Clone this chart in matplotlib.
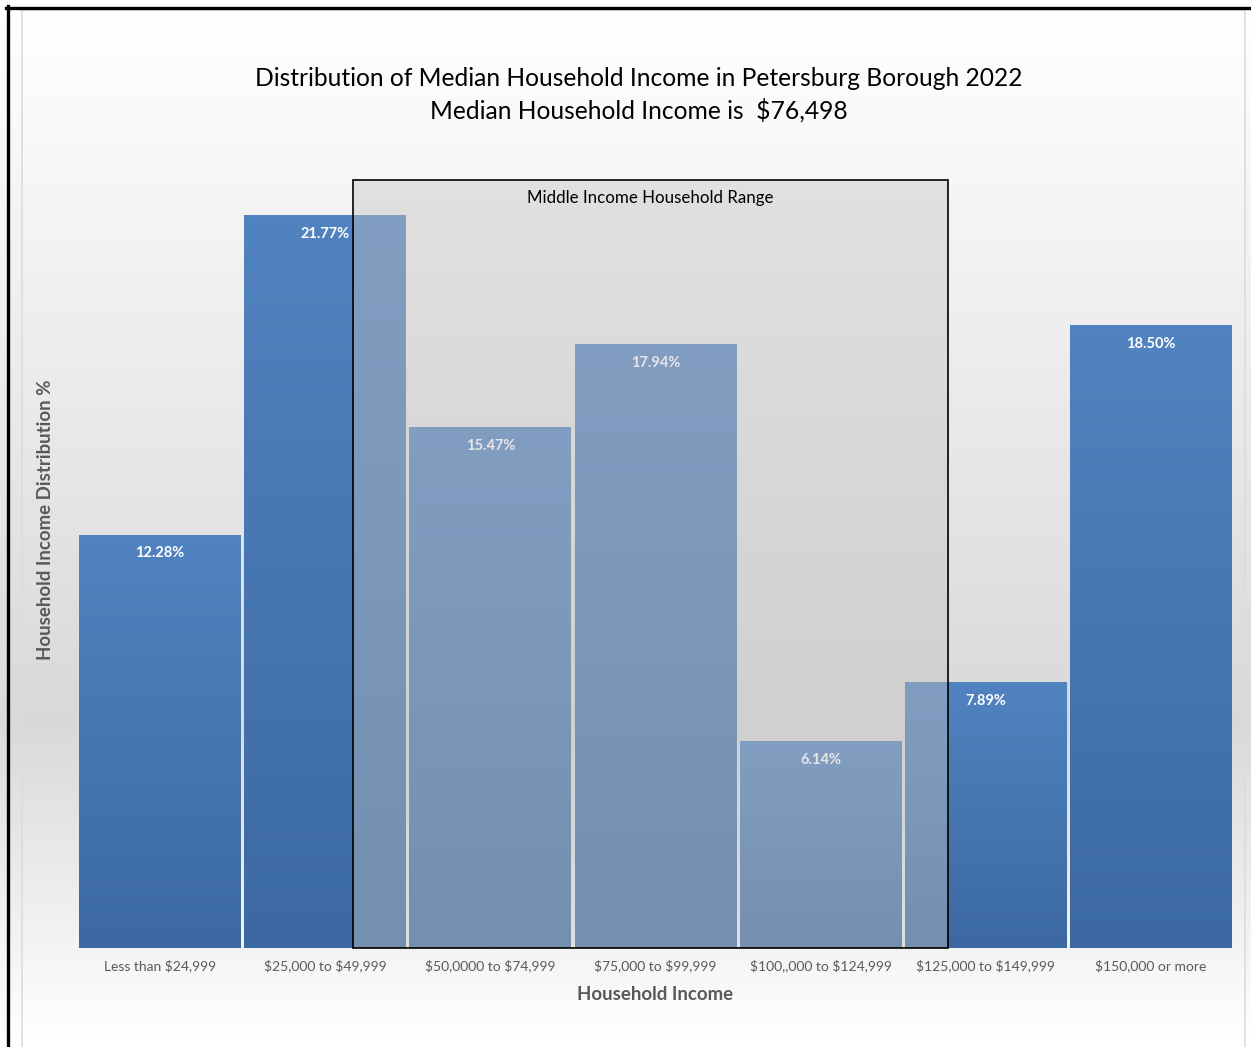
import numpy as np
import matplotlib
matplotlib.use("Agg")
import matplotlib.pyplot as plt
from matplotlib.patches import Rectangle
from matplotlib.lines import Line2D
from matplotlib.colors import to_rgb

plt.rcParams["font.family"] = ["Lato", "DejaVu Sans"]
plt.rcParams["text.parse_math"] = False

# data
categories = ["Less than $24,999", "$25,000 to $49,999", "$50,0000 to $74,999",
              "$75,000 to $99,999", "$100,,000 to $124,999", "$125,000 to $149,999",
              "$150,000 or more"]
shares = [12.28, 21.77, 15.47, 17.94, 6.14, 7.89, 18.50]
titleLines = ["Distribution of Median Household Income in Petersburg Borough 2022",
              "Median Household Income is  $76,498"]
middleLabel = "Middle Income Household Range"

# layout (pixels of a 1251x1047 canvas)
W, H = 1251, 1047
AX_LEFT, AX_RIGHT, AX_BOTTOM, AX_TOP = 77.4, 1233.6, 948, 150
YMAX = 23.71
MIDDLE_X = (1.168, 4.77)
MIDDLE_TOP = 22.82
BAR_TOP = "#5183c0"
BAR_BOTTOM = "#3c69a2"
TEXT_GRAY = "#595959"


def fx(x):
    return x / W


def fy(y):
    return 1 - y / H


fig = plt.figure(figsize=(W / 100, H / 100), dpi=100)

# background gradient: white -> gray around y=720 -> white
bg = fig.add_axes([0, 0, 1, 1], zorder=-10)
rows = np.arange(H)
vals = np.where(rows < 720, 255 - 39 * rows / 720, 216 + 39 * (rows - 720) / (H - 720))
img = np.repeat((vals / 255)[:, None], 2, axis=1)
bg.imshow(img, cmap="gray", vmin=0, vmax=1, aspect="auto", extent=[0, W, H, 0])
bg.set_xlim(0, W)
bg.set_ylim(H, 0)
bg.axis("off")

ax = fig.add_axes([fx(AX_LEFT), fy(AX_BOTTOM), fx(AX_RIGHT - AX_LEFT), (AX_BOTTOM - AX_TOP) / H])
ax.patch.set_alpha(0)
xs = np.arange(len(categories))
width = 0.98
bars = ax.bar(xs, shares, width=width, color=BAR_TOP, edgecolor="none", zorder=2)

c0 = np.array(to_rgb(BAR_BOTTOM))
c1 = np.array(to_rgb(BAR_TOP))
t = np.linspace(0, 1, 64)[:, None]
grad = (c1 * (1 - t) + c0 * t)[:, None, :]
for rect in bars:
    x0 = rect.get_x()
    h = rect.get_height()
    im = ax.imshow(grad, extent=[x0, x0 + width, 0, h], aspect="auto", zorder=2,
                   interpolation="bilinear")
    im.set_clip_path(rect)

for x, v in zip(xs, shares):
    ax.annotate(f"{v:.2f}%", (x, v), xytext=(0, -13.5), textcoords="offset points",
                ha="center", va="center", color="white", fontsize=10.5,
                fontweight="bold", zorder=3)

# middle income overlay
ov = Rectangle((MIDDLE_X[0], 0), MIDDLE_X[1] - MIDDLE_X[0], MIDDLE_TOP,
               facecolor=(0.77, 0.77, 0.77, 0.42), edgecolor="black", linewidth=1.2,
               zorder=4, clip_on=False)
ax.add_patch(ov)
ax.text(sum(MIDDLE_X) / 2, MIDDLE_TOP - 0.55, middleLabel, ha="center", va="center",
        fontsize=12.2, color="black", zorder=5)

ax.set_xlim(-0.5, len(categories) - 0.5)
ax.set_ylim(0, YMAX)
ax.set_xticks(xs)
ax.set_xticklabels(categories, fontsize=10, color=TEXT_GRAY)
ax.tick_params(axis="x", length=0, pad=8)
ax.set_yticks([])
for s in ax.spines.values():
    s.set_visible(False)

fig.text(fx(655), fy(994), "Household Income", ha="center", va="center",
         fontsize=13.4, fontweight="bold", color=TEXT_GRAY)
fig.text(fx(46), fy(520), "Household Income Distribution %", ha="center", va="center",
         rotation=90, fontsize=13.4, fontweight="bold", color=TEXT_GRAY)
fig.text(fx(639), fy(78), titleLines[0], ha="center", va="center", fontsize=17.7, color="black")
fig.text(fx(639), fy(110), titleLines[1], ha="center", va="center", fontsize=17.7, color="black")

# spreadsheet frame lines
for xa, ya in [((22, 22), (10, H)), ((22, 1245), (10, 10)), ((1245, 1245), (10, H))]:
    fig.add_artist(Line2D([fx(v) for v in xa], [fy(v) for v in ya], color="#dcdcdc", lw=1.2))
fig.add_artist(Line2D([fx(6), fx(W)], [fy(7.5), fy(7.5)], color="black", lw=2.4))
fig.add_artist(Line2D([fx(7.5), fx(7.5)], [fy(6), fy(H)], color="black", lw=2.4))

fig.savefig("out.png", dpi=100)
